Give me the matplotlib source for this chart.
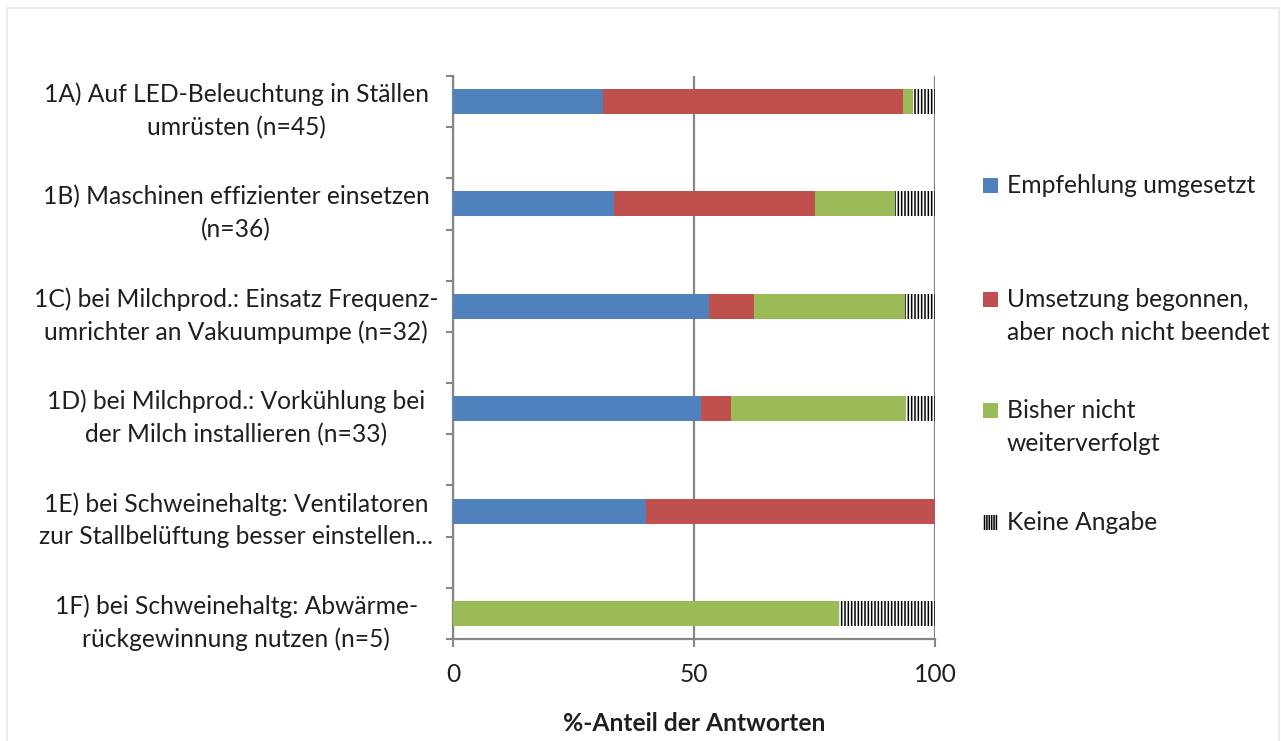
import matplotlib.pyplot as plt
from matplotlib.patches import Rectangle
from matplotlib.transforms import blended_transform_factory

plt.rcParams['font.family'] = ['Lato', 'DejaVu Sans']
plt.rcParams['hatch.linewidth'] = 1.1

# Daten (%-Anteil der Antworten)
labels = [
    '1A) Auf LED-Beleuchtung in Ställen\numrüsten (n=45)',
    '1B) Maschinen effizienter einsetzen\n(n=36)',
    '1C) bei Milchprod.: Einsatz Frequenz-\numrichter an Vakuumpumpe (n=32)',
    '1D) bei Milchprod.: Vorkühlung bei\nder Milch installieren (n=33)',
    '1E) bei Schweinehaltg: Ventilatoren\nzur Stallbelüftung besser einstellen...',
    '1F) bei Schweinehaltg: Abwärme-\nrückgewinnung nutzen (n=5)',
]
umgesetzt = [31.1, 33.3, 53.1, 51.5, 40.0, 0.0]
begonnen = [62.2, 41.7, 9.4, 6.1, 60.0, 0.0]
nicht_verfolgt = [2.2, 16.7, 31.3, 36.4, 0.0, 80.0]
keine_angabe = [4.5, 8.3, 6.2, 6.0, 0.0, 20.0]

series_names = ['Empfehlung umgesetzt',
                'Umsetzung begonnen,\naber noch nicht beendet',
                'Bisher nicht\nweiterverfolgt',
                'Keine Angabe']

c_blue = '#4F81BD'
c_red = '#C0504D'
c_green = '#9BBB59'
c_axis = '#868686'
c_text = '#1F1F1F'
fs = 17.7

W, H = 1281, 741
fig = plt.figure(figsize=(W / 100, H / 100), dpi=100)
ax = fig.add_axes([453 / W, 1 - 639 / H, (935 - 453) / W, (639 - 76) / H])

# jede zweite Kategorie bleibt leer
ypos = [2 * i for i in range(len(labels))]
h = 0.49

left = [0.0] * len(labels)
for vals, col in [(umgesetzt, c_blue), (begonnen, c_red), (nicht_verfolgt, c_green)]:
    ax.barh(ypos, vals, height=h, left=left, color=col, linewidth=0, zorder=3)
    left = [l + v for l, v in zip(left, vals)]
ax.barh(ypos, keine_angabe, height=h, left=left, color='white',
        edgecolor='black', hatch='|||||', linewidth=0, zorder=3)

ax.set_xlim(0, 100)
ax.set_ylim(10.5, -0.5)
ax.set_xticks([0, 50, 100])
ax.set_yticks([y - 0.5 for y in range(12)])
ax.set_yticklabels([])
ax.tick_params(axis='y', length=5, width=1.5, color=c_axis, direction='out')
ax.tick_params(axis='x', length=6, width=1.5, color=c_axis, direction='out',
               pad=11, labelsize=fs, labelcolor=c_text)
for s in ['top', 'right']:
    ax.spines[s].set_visible(False)
for s in ['left', 'bottom']:
    ax.spines[s].set_color(c_axis)
    ax.spines[s].set_linewidth(1.6)
ax.xaxis.grid(True, color=c_axis, linewidth=1.6, zorder=0)
ax.set_axisbelow(True)

ax.set_xlabel('%-Anteil der Antworten', fontsize=fs, fontweight='bold',
              labelpad=19, color=c_text)

# Kategorienbeschriftungen links
trans = blended_transform_factory(ax.transAxes, ax.transData)
for y, lab in zip(ypos, labels):
    ax.text(-0.45, y + 0.18, lab, transform=trans, ha='center', va='center',
            multialignment='center', fontsize=fs, linespacing=1.5,
            color=c_text)

# Legende rechts
key_cols = [c_blue, c_red, c_green, None]
key_y = [185, 299, 410, 522]
line_h = 33
for name, col, ky in zip(series_names, key_cols, key_y):
    x0, y0 = 983 / W, 1 - (ky + 7.5) / H
    if col is None:
        fig.add_artist(Rectangle((x0, y0), 15 / W, 15 / H, transform=fig.transFigure,
                                 facecolor='white', edgecolor='black', hatch='|||||||',
                                 linewidth=0))
    else:
        fig.add_artist(Rectangle((x0, y0), 15 / W, 15 / H, transform=fig.transFigure,
                                 facecolor=col, linewidth=0))
    for i, line in enumerate(name.split('\n')):
        fig.text(1007 / W, 1 - (ky + 8 + i * line_h) / H, line, fontsize=fs,
                 va='baseline', ha='left', color=c_text)

# Rahmen des Diagrammbereichs
fig.add_artist(Rectangle((7 / W, -0.01), 1272 / W, 1 - 8 / H + 0.01,
                         transform=fig.transFigure, fill=False,
                         edgecolor='#EBEBEB', linewidth=1.5))

fig.savefig('out.png', dpi=100, facecolor='white')
